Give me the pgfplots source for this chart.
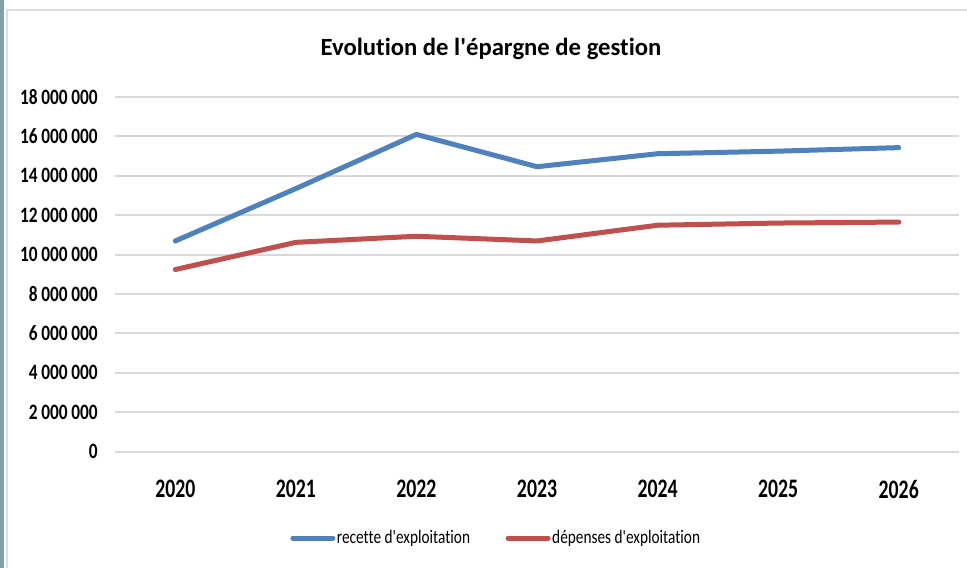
\documentclass[border=0pt]{standalone}
\usepackage{fontspec}
\setmainfont[Ligatures={TeXOff,NoCommon}]{Carlito}
\newfontfamily\ylabfont[FakeStretch=0.79,Ligatures={TeXOff,NoCommon}]{Carlito}
\newfontfamily\xlabfont[FakeStretch=0.74,Ligatures={TeXOff,NoCommon}]{Carlito}
\newfontfamily\legfont[FakeStretch=0.80,Ligatures={TeXOff,NoCommon}]{Carlito}
\usepackage{pgfplots}
\pgfplotsset{compat=1.18}
\definecolor{serA}{HTML}{4F81BD}
\definecolor{serB}{HTML}{C0504D}
\definecolor{gridc}{HTML}{D9D9D9}
\definecolor{sidebar}{RGB}{130,160,172}
\definecolor{framec}{HTML}{DDDDDD}
\begin{document}
\begin{tikzpicture}[x=0.5bp,y=-0.5bp]
\useasboundingbox (0,0) rectangle (967,568);
\fill[white] (0,0) rectangle (967,568);
\fill[sidebar] (0,0) rectangle (3.5,568);
\draw[framec, line width=1bp] (7,568) -- (7,10) -- (967,10);
\begin{axis}[
  at={(57.5bp,-225.75bp)}, anchor=south west,
  scale only axis,
  width=422bp, height=177.25bp,
  xmin=-0.5, xmax=6.5,
  ymin=0, ymax=18000000,
  xtick={0,...,6},
  xticklabels={2020,2021,2022,2023,2024,2025,2026},
  ytick={0,2000000,...,18000000},
  scaled y ticks=false,
  yticklabel={\pgfmathprintnumber[fixed,precision=0,1000 sep={\,}]{\tick}},
  /pgf/number format/assume math mode=true,
  ymajorgrids,
  grid style={gridc, line width=1bp},
  axis line style={draw=none},
  major tick length=0pt,
  yticklabel style={font=\ylabfont\bfseries\fontsize{11}{13}\selectfont, inner sep=0pt, anchor=east, xshift=-8.5bp},
  xticklabel style={font=\xlabfont\bfseries\fontsize{13.4}{16}\selectfont, inner sep=0pt, anchor=north, yshift=-14.2bp},
  title={Evolution de l'épargne de gestion},
  title style={font=\bfseries\fontsize{12.4}{15}\selectfont, anchor=base, at={(0.4455,1.0847)}, inner sep=0pt},
  legend columns=2,
  legend style={draw=none, fill=none, at={(0.4514,-0.244)}, anchor=center,
    font=\legfont\fontsize{9.6}{11}\selectfont, inner sep=0pt,
    nodes={inner sep=0.8bp},
    /tikz/every even column/.append style={column sep=17bp}},
  legend image code/.code={\draw[#1, line width=2.5bp] (0bp,0bp) -- (20bp,0bp);},
  every axis plot/.append style={line width=2.5bp, line join=round, line cap=round},
]
\addplot[serA, mark=none] coordinates {
  (0,10690000) (1,13350000) (2,16100000) (3,14460000) (4,15120000) (5,15250000) (6,15430000)
};
\addlegendentry{recette d'exploitation}
\addplot[serB, mark=none] coordinates {
  (0,9240000) (1,10620000) (2,10930000) (3,10690000) (4,11490000) (5,11600000) (6,11650000)
};
\addlegendentry{dépenses d'exploitation}
\end{axis}
\end{tikzpicture}
\end{document}
